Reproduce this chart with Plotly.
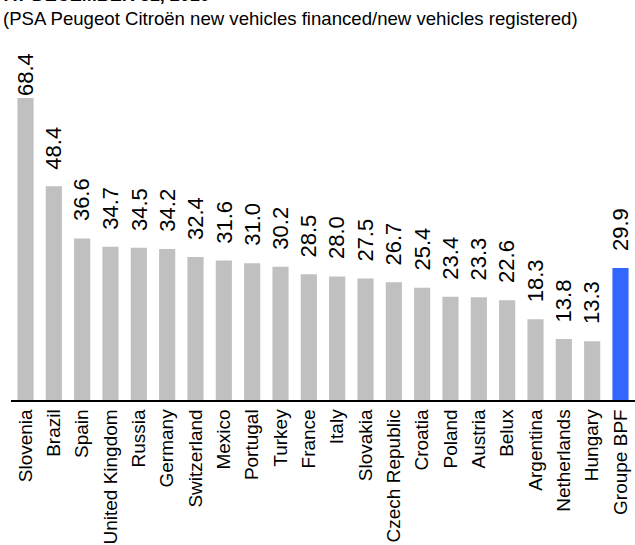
import plotly.graph_objects as go

# Penetration rate per country, at December 31, 2010 (%)
countries = [
    "Slovenia", "Brazil", "Spain", "United Kingdom", "Russia", "Germany",
    "Switzerland", "Mexico", "Portugal", "Turkey", "France", "Italy",
    "Slovakia", "Czech Republic", "Croatia", "Poland", "Austria", "Belux",
    "Argentina", "Netherlands", "Hungary", "Groupe BPF",
]
rates = [
    68.4, 48.4, 36.6, 34.7, 34.5, 34.2,
    32.4, 31.6, 31.0, 30.2, 28.5, 28.0,
    27.5, 26.7, 25.4, 23.4, 23.3, 22.6,
    18.3, 13.8, 13.3, 29.9,
]
total_label = "Groupe BPF"

GREY = "#c0c0c0"
BLUE = "#3366ff"
FONT = "Liberation Sans, Arial, sans-serif"

W, H = 635, 545
M_L, M_R, M_T, M_B = 11, 0, 57, 143
Y_MAX = 77.7
plot_h = H - M_T - M_B
px_per_unit = plot_h / Y_MAX
LABEL_LEN = 43  # approximate rotated label length in px
LABEL_PAD = 15

colors = [BLUE if c == total_label else GREY for c in countries]

fig = go.Figure(
    go.Bar(
        x=countries,
        y=rates,
        marker=dict(color=colors, line=dict(width=0)),
        hoverinfo="x+y",
    )
)

# value labels, rotated, above each bar (kept inside the plot area)
for c, v in zip(countries, rates):
    room = (Y_MAX - v) * px_per_unit - LABEL_LEN
    pad = max(0, min(LABEL_PAD, room))
    fig.add_annotation(
        x=c, y=v, text=f"{v:.1f}", textangle=-90, showarrow=False,
        xanchor="center", yanchor="bottom", yshift=pad,
        font=dict(family=FONT, size=22, color="#000000"),
    )

# heading lines (the bold heading runs past the top edge of the page)
fig.add_annotation(
    xref="paper", yref="paper", x=-9 / (W - M_L - M_R), y=(H - M_B + 5) / plot_h,
    xanchor="left", yanchor="middle", showarrow=False,
    text="<b>AT DECEMBER 31, 2010</b>",
    font=dict(family=FONT, size=18, color="#000000"),
)
fig.add_annotation(
    xref="paper", yref="paper", x=-10 / (W - M_L - M_R), y=(H - M_B - 18) / plot_h,
    xanchor="left", yanchor="middle", showarrow=False,
    text="(PSA Peugeot Citroën new vehicles financed/new vehicles registered)",
    font=dict(family=FONT, size=18.6, color="#000000"),
)

fig.update_layout(
    width=W, height=H,
    margin=dict(l=M_L, r=M_R, t=M_T, b=M_B, pad=0),
    paper_bgcolor="white", plot_bgcolor="white",
    bargap=0.43,
    showlegend=False,
    xaxis=dict(
        tickangle=-90, showline=True, linecolor="#000000", linewidth=1.5,
        showgrid=False, ticks="", ticklen=0,
        tickfont=dict(family=FONT, size=19, color="#000000"),
        fixedrange=True,
    ),
    yaxis=dict(
        range=[0, Y_MAX], visible=False, showgrid=False, zeroline=False,
        fixedrange=True,
    ),
)

fig.write_html("out.html")
